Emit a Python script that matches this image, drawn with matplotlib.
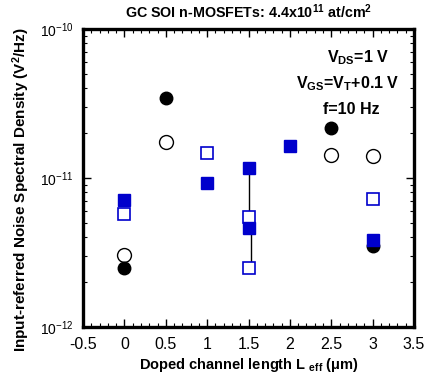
import numpy as np
import matplotlib
matplotlib.use("Agg")
import matplotlib.pyplot as plt
from matplotlib.ticker import MultipleLocator, FixedLocator, NullFormatter

plt.rcParams['font.family'] = ['Liberation Sans', 'DejaVu Sans']
plt.rcParams['mathtext.fontset'] = 'custom'
plt.rcParams['mathtext.rm'] = 'Liberation Sans'
plt.rcParams['mathtext.bf'] = 'Liberation Sans:bold'
plt.rcParams['mathtext.it'] = 'Liberation Sans:italic'

# data (noise PSD in V^2/Hz)
filled_circle_x = [0.0, 0.5, 2.5, 3.0]
filled_circle_y = [2.5e-12, 3.45e-11, 2.15e-11, 3.5e-12]
open_circle_x = [0.0, 0.5, 2.5, 3.0]
open_circle_y = [3.05e-12, 1.73e-11, 1.43e-11, 1.41e-11]
filled_square_x = [0.0, 1.0, 1.5, 1.5, 2.0, 3.0]
filled_square_y = [7.1e-12, 9.2e-12, 1.16e-11, 4.6e-12, 1.64e-11, 3.85e-12]
open_square_x = [0.0, 1.0, 1.5, 1.5, 3.0]
open_square_y = [5.75e-12, 1.48e-11, 5.5e-12, 2.5e-12, 7.2e-12]

# vertical connectors at L = 1.5 um
link_x = [1.5, 1.53]
link_top = [1.16e-11, 4.6e-12]
link_bot = [5.5e-12, 2.5e-12]

x_ticks = [-0.5, 0, 0.5, 1, 1.5, 2, 2.5, 3, 3.5]
x_ticklabels = ['-0.5', '0', '0.5', '1', '1.5', '2', '2.5', '3', '3.5']
y_ticks = [1e-12, 1e-11, 1e-10]
y_ticklabels = [r'$10^{-12}$', r'$10^{-11}$', r'$10^{-10}$']

blue = '#0000cc'

fig = plt.figure(figsize=(4.33, 3.81), dpi=100)
ax = fig.add_axes([0.192, 0.142, 0.764, 0.782])

for xx, t, b in zip(link_x, link_top, link_bot):
    ax.plot([xx, xx], [t, b], color='black', lw=1.0, zorder=1)

ax.plot(open_circle_x, open_circle_y, 'o', ms=10, mfc='white', mec='black', mew=1.0, zorder=2)
ax.plot(filled_circle_x, filled_circle_y, 'o', ms=9, mfc='black', mec='black', zorder=3)
ax.plot(open_square_x, open_square_y, 's', ms=9, mfc='white', mec=blue, mew=1.2, zorder=4)
ax.plot(filled_square_x, filled_square_y, 's', ms=9, mfc=blue, mec=blue, zorder=5)

ax.set_yscale('log')
ax.set_xlim(-0.5, 3.5)
ax.set_ylim(1e-12, 1e-10)
ax.set_xticks(x_ticks)
ax.set_xticklabels(x_ticklabels)
ax.xaxis.set_minor_locator(MultipleLocator(0.1))
ax.set_yticks(y_ticks)
ax.set_yticklabels(y_ticklabels)
minor_y = [m * 10.0 ** e for e in (-12, -11) for m in range(2, 10)]
ax.yaxis.set_minor_locator(FixedLocator(minor_y))
ax.yaxis.set_minor_formatter(NullFormatter())

ax.tick_params(which='both', direction='in', top=True, right=True)
ax.tick_params(axis='x', labelsize=11.5, pad=7)
ax.tick_params(axis='y', labelsize=10, pad=7)
ax.tick_params(which='major', length=6, width=1.0)
ax.tick_params(which='minor', length=3, width=0.8)
for sp in ax.spines.values():
    sp.set_linewidth(2.4)

ax.set_xlabel(r'Doped channel length L $_{\mathbf{eff}}$ ($\mathbf{\mu}$m)',
              fontsize=10.5, fontweight='bold', labelpad=3)
ax.set_ylabel(r'Input-referred Noise Spectral Density (V$^{\mathbf{2}}$/Hz)',
              fontsize=11, fontweight='bold')
ax.yaxis.set_label_coords(-0.155, 0.46)
ax.set_title(r'GC SOI n-MOSFETs: 4.4x10$^{\mathbf{11}}$ at/cm$^{\mathbf{2}}$',
             fontsize=10.3, fontweight='bold', pad=8)

ax.text(0.83, 0.905, r'V$_{\mathbf{DS}}$=1 V', transform=ax.transAxes,
        ha='center', va='center', fontsize=11.5, fontweight='bold')
ax.text(0.80, 0.815, r'V$_{\mathbf{GS}}$=V$_{\mathbf{T}}$+0.1 V', transform=ax.transAxes,
        ha='center', va='center', fontsize=11.5, fontweight='bold')
ax.text(0.81, 0.73, 'f=10 Hz', transform=ax.transAxes,
        ha='center', va='center', fontsize=11.5, fontweight='bold')

fig.savefig('out.png', dpi=100)
